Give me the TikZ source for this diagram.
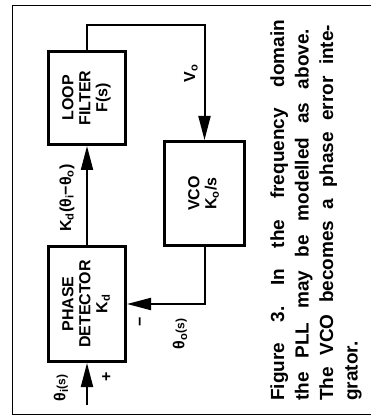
\documentclass[tikz,border=0pt]{standalone}
\usepackage{fontspec}
\setmainfont{Liberation Sans}
\usepackage{graphicx}
\usetikzlibrary{arrows.meta}
\frenchspacing

\tikzset{
  block/.style={draw, line width=3pt, inner sep=0pt, font=\fontsize{16}{17}\selectfont\bfseries},
  sig/.style={line width=2pt, -{Triangle[length=24pt,width=12pt]}},
  lbl/.style={rotate=90, inner sep=0pt, font=\fontsize{16}{17}\selectfont\bfseries},
  capline/.style={rotate=90, anchor=base west, inner sep=0pt, font=\fontsize{19}{24}\selectfont\bfseries},
}
\newcommand{\vtext}[1]{\rotatebox{90}{\begin{tabular}{@{}c@{}}#1\end{tabular}}}
\newcommand{\smalls}{{\fontsize{12}{12}\selectfont(s)}}

\begin{document}
\begin{tikzpicture}[x=1pt, y=-1pt]
    \useasboundingbox (0,0) rectangle (372,419);
    \draw[line width=0.8pt] (371,5) -- (12,5) -- (12,414) -- (371,414);

    % blocks
    \node[block, minimum width=77pt, minimum height=115pt] (pd) at (87,304) {\vtext{PHASE\\DETECTOR\\K\textsubscript{d}}};
    \node[block, minimum width=77pt, minimum height=93pt] (lf) at (87,98) {\vtext{LOOP\\FILTER\\F(s)}};
    \node[block, minimum width=80pt, minimum height=104pt] (vco) at (204.5,193.5) {\vtext{VCO\\K\textsubscript{o}/s}};

    % loop
    \coordinate (in) at (87,405);
    \coordinate (loopTop) at (204.5,25);
    \coordinate (fbTurn) at (204.5,304);
    \draw[sig] (in) -- (pd.south);
    \draw[sig] (pd.north) -- (lf.south);
    \draw[sig] (lf.north) |- (loopTop) -- (vco.north);
    \draw[sig] (vco.south) -- (fbTurn) -- (pd.east);

    % signal labels
    \node[lbl] (thi) at (61,388) {θ\textsubscript{i}\smalls};
    \node[lbl] (plus) at (107,377) {+};
    \node[lbl] (minus) at (142,322) {−};
    \node[lbl] (tho) at (180,334) {θ\textsubscript{o}\smalls};
    \node[lbl] (err) at (67,198) {K\textsubscript{d}(θ\textsubscript{i}−θ\textsubscript{o})};
    \node[lbl] (vo) at (191,73) {V\textsubscript{o}};

    % caption
    \node[capline] (cap1) at (284,401) {\makebox[381pt][s]{Figure 3. In the frequency domain}};
    \node[capline] (cap2) at (308.5,401) {\makebox[372pt][s]{the PLL may be modelled as above.}};
    \node[capline] (cap3) at (333,401) {\makebox[376pt][s]{The VCO becomes a phase error inte-}};
    \node[capline] (cap4) at (357.5,401) {grator.};
\end{tikzpicture}
\end{document}
